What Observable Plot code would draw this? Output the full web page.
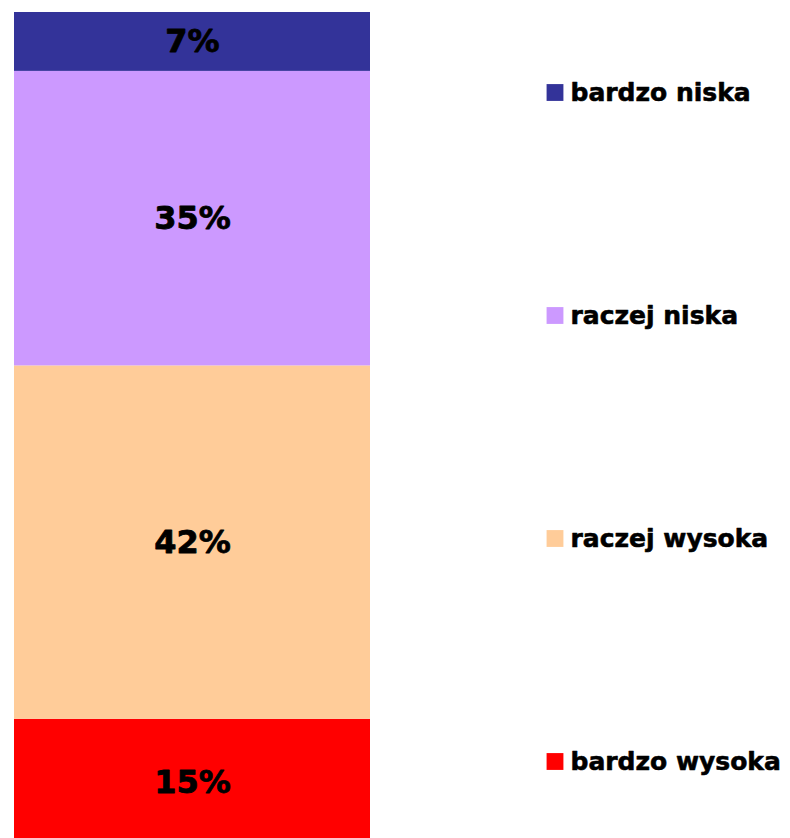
<!DOCTYPE html>
<html>
<head>
<meta charset="utf-8">
<script src="https://cdn.jsdelivr.net/npm/d3@7"></script>
<script src="https://cdn.jsdelivr.net/npm/@observablehq/plot@0.6"></script>
<style>
  html, body { margin: 0; padding: 0; background: #fff; }
  #wrap { position: relative; width: 790px; height: 838px; overflow: hidden; }
  #wrap svg { position: absolute; top: 0; font-family: "DejaVu Sans", Verdana, sans-serif; font-weight: bold; }
</style>
</head>
<body>
<div id="wrap"></div>
<script>
const categories = ["bardzo wysoka", "raczej wysoka", "raczej niska", "bardzo niska"];
const values = [15, 42, 35, 7];
const colors = ["#FF0000", "#FFCC99", "#CC99FF", "#333399"];
const legendOrder = ["bardzo niska", "raczej niska", "raczej wysoka", "bardzo wysoka"];

const data = categories.map((c, i) => ({group: "all", category: c, value: values[i]}));
const color = {domain: categories, range: colors};

const main = Plot.plot({
  width: 790,
  height: 838,
  marginLeft: 14,
  marginRight: 420,
  marginTop: 0,
  marginBottom: 0,
  x: {type: "band", domain: ["all"], padding: 0, axis: null},
  y: {domain: [0, 99], range: [845, 12], axis: null},
  color,
  marks: [
    Plot.barY(data, Plot.stackY({x: "group", y: "value", z: "category", fill: "category", order: null})),
    Plot.text(data, Plot.stackY({x: "group", y: "value", z: "category", order: null,
      text: d => d.value + "%", fontSize: 32, fontWeight: "bold", fill: "#000",
      stroke: "#000", strokeWidth: 0.8}))
  ]
});
main.style.left = "0px";

const legend = Plot.plot({
  width: 244,
  height: 838,
  marginLeft: 0,
  marginRight: 0,
  marginTop: 91,
  marginBottom: 76,
  x: {axis: null, domain: [0, 1]},
  y: {type: "point", domain: legendOrder, padding: 0, axis: null},
  color,
  marks: [
    Plot.dot(legendOrder, {y: d => d, frameAnchor: "left", dx: 8.5, symbol: "square", r: 9.5, fill: d => d, stroke: null}),
    Plot.text(legendOrder, {y: d => d, frameAnchor: "left", dx: 24, text: d => d, textAnchor: "start",
      fontSize: 25, fontWeight: "bold", fill: "#000", stroke: "#000", strokeWidth: 0.6})
  ]
});
legend.style.left = "546px";

const wrap = document.getElementById("wrap");
wrap.appendChild(main);
wrap.appendChild(legend);
</script>
</body>
</html>
